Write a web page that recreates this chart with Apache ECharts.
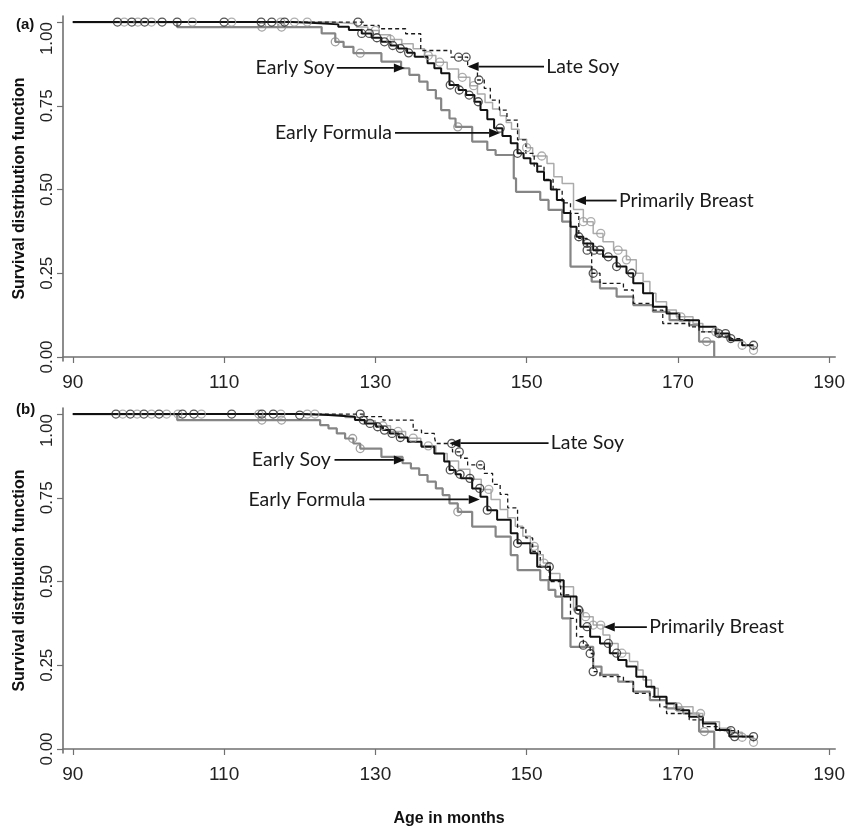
<!DOCTYPE html>
<html>
<head>
<meta charset="utf-8">
<script src="https://cdn.jsdelivr.net/npm/echarts@6/dist/echarts.min.js"></script>
<style>
html, body { margin: 0; background: #fff; }
#main { width: 848px; height: 829px; }
</style>
</head>
<body>
<div id="main"></div>
<script>
'use strict';

/* ===== data: [age in months, survival] ===== */
var xTicks = [90, 110, 130, 150, 170, 190];
var yTicks = [0, 0.25, 0.5, 0.75, 1];

// panel (a)
var esA = [[90,1],[103.8,0.985],[122.9,0.966],[124.7,0.941],[125.8,0.926],[127.1,0.907],[130.8,0.882],[133.4,0.862],[134.5,0.842],[135.8,0.822],[136.9,0.797],[138,0.772],[138.7,0.737],[139.8,0.712],[140.6,0.687],[142.8,0.643],[144.8,0.618],[145.9,0.603],[148.3,0.533],[148.6,0.493],[151.8,0.469],[152.9,0.439],[154.7,0.404],[155.8,0.27],[158.6,0.225],[159.7,0.205],[161.9,0.18],[164.1,0.155],[166.7,0.135],[168.9,0.11],[171.5,0.095],[172.8,0.046],[174.8,0]];
var efA = [[90,1],[119,0.997],[122,0.993],[125.1,0.986],[126.5,0.976],[128.2,0.966],[129.5,0.953],[130.8,0.941],[132,0.93],[133,0.921],[134.2,0.908],[135.2,0.896],[136.9,0.877],[137.8,0.862],[138.7,0.847],[139.8,0.812],[141,0.797],[142,0.782],[143.1,0.762],[143.9,0.737],[144.8,0.71],[145.7,0.683],[146.8,0.66],[147.9,0.638],[148.8,0.608],[149.6,0.593],[150.5,0.578],[151.4,0.553],[152.3,0.528],[153.2,0.5],[154,0.469],[154.9,0.43],[155.8,0.389],[156.6,0.359],[157.5,0.339],[158.8,0.319],[160.1,0.299],[161.9,0.27],[163.2,0.25],[164.1,0.22],[165.4,0.19],[166.7,0.15],[168.5,0.13],[170.2,0.11],[172.8,0.09],[175,0.07],[176.8,0.05],[178.5,0.035],[180,0.035]];
var lsA = [[90,1],[128.5,0.99],[130.5,0.98],[134,0.965],[136,0.915],[140,0.895],[142.2,0.867],[143.5,0.827],[144.4,0.802],[145.2,0.767],[146.4,0.737],[147.4,0.707],[148.8,0.648],[149.9,0.608],[151,0.57],[152.3,0.53],[153.5,0.5],[154.7,0.46],[155.8,0.429],[156.9,0.354],[158,0.319],[158.6,0.25],[159.7,0.22],[162.8,0.2],[164.1,0.16],[166.7,0.14],[168,0.1],[171.5,0.09],[172.8,0.075],[175,0.062],[177,0.055],[178.5,0.045]];
var pbA = [[90,1],[124,0.995],[127.5,0.985],[129,0.975],[130.5,0.962],[132,0.948],[133.5,0.935],[135,0.92],[136.5,0.9],[138,0.88],[139.5,0.86],[141,0.835],[142.5,0.81],[143.5,0.785],[144.5,0.76],[145.5,0.74],[146.5,0.72],[147.3,0.7],[148,0.68],[149,0.65],[150,0.625],[150.8,0.6],[152.7,0.578],[153.6,0.538],[154.7,0.518],[156.2,0.44],[157.5,0.404],[158.8,0.369],[160.1,0.344],[161.5,0.319],[163.2,0.29],[164.5,0.25],[165.4,0.225],[166.3,0.19],[167.1,0.165],[168.5,0.14],[169.8,0.12],[172,0.1],[173.3,0.075],[175.5,0.06],[177,0.05],[178.5,0.035],[180,0.02]];

var esCensA = [115, 117.6, 124.7, 128, 140.9, 173.8];
var efCensA = [95.9, 97.8, 99.5, 101.8, 103.8, 110, 114.9, 116.3, 118, 128.2, 129.2, 130.2, 131.2, 132.3, 133.3, 134.4, 139.9, 141.1, 142.4, 143.6, 146.5, 148.8, 156.9, 158, 158.9, 159.7, 160.8, 161.9, 163.9, 175.4, 176.3, 180];
var lsCensA = [127.7, 141, 142, 143.7, 158, 158.8, 177];
var pbCensA = [96.8, 98.6, 100.4, 105.8, 111, 117.5, 119.3, 121, 130, 132, 137, 138.5, 141.5, 143, 150, 152, 157.5, 158.5, 159.8, 162.1, 163.2, 170.4, 175, 178.5, 180];

// panel (b)
var esB = [[90,1],[103.8,0.982],[122.7,0.967],[123.8,0.957],[124.9,0.942],[126,0.927],[127.1,0.912],[128,0.897],[130.8,0.872],[133.6,0.853],[134.7,0.838],[135.8,0.818],[136.9,0.798],[138,0.778],[138.9,0.758],[139.8,0.733],[140.9,0.708],[142.8,0.664],[145.9,0.634],[147.9,0.579],[148.8,0.534],[151.8,0.504],[152.9,0.475],[153.8,0.455],[154.7,0.39],[155.8,0.305],[158.8,0.246],[159.9,0.221],[162.1,0.201],[164.1,0.171],[166.3,0.146],[168.5,0.121],[170.7,0.106],[172.8,0.052],[174.8,0]];
var efB = [[90,1],[120,0.997],[123.8,0.992],[127.3,0.982],[128.6,0.972],[130.1,0.962],[131,0.952],[131.9,0.942],[133.1,0.93],[134.3,0.917],[136.1,0.902],[137.8,0.882],[139.1,0.858],[139.8,0.833],[140.6,0.82],[141.3,0.808],[142.8,0.778],[143.9,0.753],[144.8,0.713],[146.1,0.684],[147.9,0.644],[148.8,0.614],[150.5,0.584],[151.4,0.544],[153.1,0.504],[154.9,0.455],[156.6,0.415],[157.1,0.365],[158.4,0.335],[159.7,0.315],[161,0.286],[162.1,0.266],[163.2,0.246],[164.5,0.216],[165.8,0.186],[166.9,0.156],[168.5,0.136],[169.8,0.116],[171.5,0.096],[173.3,0.076],[175,0.057],[176.8,0.037],[180,0.037]];
var lsB = [[90,1],[128.5,0.992],[131,0.982],[135,0.952],[136.1,0.942],[137.8,0.932],[138,0.912],[140.2,0.887],[141.3,0.868],[142.2,0.848],[144.4,0.823],[145.5,0.79],[146.5,0.76],[147.5,0.72],[148.8,0.66],[149.9,0.63],[150.8,0.59],[151.8,0.544],[153,0.5],[154.5,0.46],[155.8,0.39],[156.6,0.335],[157.5,0.31],[158.4,0.285],[158.8,0.231],[159.7,0.216],[162.8,0.201],[164.1,0.166],[166.3,0.156],[167.6,0.126],[168.5,0.106],[171.5,0.087],[173.3,0.067],[175.5,0.055],[178,0.045]];
var pbB = [[90,1],[123,0.996],[126,0.99],[128,0.98],[130,0.965],[132,0.948],[134,0.928],[136,0.905],[138,0.882],[139.5,0.86],[141,0.835],[142.5,0.805],[144,0.775],[145.3,0.745],[146.5,0.715],[147.5,0.69],[148.5,0.665],[149.5,0.635],[150.5,0.605],[151.5,0.58],[152.2,0.555],[153.1,0.524],[154.4,0.484],[156.2,0.415],[157.5,0.395],[158.8,0.37],[160.1,0.34],[161,0.315],[162.1,0.286],[163.6,0.261],[164.7,0.236],[165.4,0.206],[166.5,0.181],[167.4,0.156],[168.5,0.136],[169.8,0.126],[172,0.106],[173.3,0.081],[175.5,0.062],[177,0.05],[178.5,0.035],[180,0.02]];

var esCensB = [115, 117.6, 127, 128, 140.9, 173.5];
var efCensB = [95.7, 97.6, 99.4, 101.4, 104.5, 106, 111, 115, 116.5, 120, 128.4, 129.3, 130.3, 131.2, 132.2, 133.3, 139.9, 141.2, 142.5, 143.8, 144.8, 148.8, 153, 156.9, 158, 160.8, 161.9, 177.5, 180];
var lsCensB = [128, 140.1, 141.1, 143.9, 157.5, 158.4, 158.8, 177];
var pbCensB = [96.6, 98.5, 100.4, 102.4, 103.9, 107, 114.6, 117.5, 121, 122, 131, 133, 135, 137, 145, 151, 152.3, 156.8, 157.8, 158.8, 159.8, 162.6, 170, 173, 178.5, 180];

// arrows: text anchor, arrow tail, arrow head (data units)
var notesA = [
  { label: 'Early Soy', at: [124.6, 0.863], align: 'right', from: [124.9, 0.863], to: [133.9, 0.863] },
  { label: 'Late Soy', at: [152.6, 0.867], align: 'left', from: [152.3, 0.867], to: [142.2, 0.867] },
  { label: 'Early Formula', at: [132.2, 0.669], align: 'right', from: [132.6, 0.669], to: [146.5, 0.669] },
  { label: 'Primarily Breast', at: [162.2, 0.467], align: 'left', from: [161.9, 0.467], to: [156.4, 0.467] }
];
var notesB = [
  { label: 'Early Soy', at: [124.1, 0.863], align: 'right', from: [124.6, 0.863], to: [133.9, 0.863] },
  { label: 'Late Soy', at: [153.2, 0.913], align: 'left', from: [152.9, 0.913], to: [139.8, 0.913] },
  { label: 'Early Formula', at: [128.7, 0.745], align: 'right', from: [129.2, 0.745], to: [143.8, 0.745] },
  { label: 'Primarily Breast', at: [166.2, 0.364], align: 'left', from: [165.9, 0.364], to: [160.2, 0.364] }
];

/* ===== helpers ===== */
function survAt(curve, t) {
  var s = curve[0][1];
  for (var i = 0; i < curve.length; i++) {
    if (curve[i][0] <= t) s = curve[i][1];
  }
  return s;
}
function censPoints(curve, times) {
  return times.map(function (t) { return [t, survAt(curve, t)]; });
}

var tickFont = { fontFamily: 'Liberation Sans Narrow, Liberation Sans, Arial', fontSize: 19, color: '#222' };
var axisGray = '#707070';

function makeX(idx) {
  return {
    type: 'value', gridIndex: idx, min: 88.7, max: 190.8,
    axisLine: { lineStyle: { color: axisGray, width: 1.6 } },
    axisTick: { customValues: xTicks, length: 6, lineStyle: { color: axisGray, width: 1.2 } },
    axisLabel: Object.assign({ customValues: xTicks, margin: 12 }, tickFont),
    splitLine: { show: false },
    name: idx === 1 ? 'Age in months' : '',
    nameLocation: 'middle', nameGap: 58,
    nameTextStyle: { fontFamily: 'Liberation Sans, Arial', fontWeight: 'bold', fontSize: 16, color: '#111' }
  };
}
function makeY(idx) {
  return {
    type: 'value', gridIndex: idx, min: -0.012, max: 1.018,
    axisLine: { show: true, lineStyle: { color: axisGray, width: 1.6 } },
    axisTick: { show: true, customValues: yTicks, length: 6, lineStyle: { color: axisGray, width: 1.2 } },
    axisLabel: {
      customValues: yTicks, rotate: 90, margin: 7, alignMaxLabel: 'right',
      fontFamily: 'Liberation Sans, Arial', fontSize: 17, color: '#222',
      formatter: function (v) { return v.toFixed(2); }
    },
    splitLine: { show: false },
    name: 'Survival distribution function',
    nameLocation: 'middle', nameGap: 35, nameRotate: 90,
    nameTextStyle: { fontFamily: 'Liberation Sans, Arial', fontWeight: 'bold', fontSize: 16, color: '#111' }
  };
}

function stepLine(idx, data, color, width, dashed, z) {
  return {
    type: 'line', xAxisIndex: idx, yAxisIndex: idx, step: 'end',
    data: data, symbol: 'none', z: z,
    lineStyle: { color: color, width: width, type: dashed ? [4, 3] : 'solid' }
  };
}
function circles(idx, data, color, z) {
  return {
    type: 'scatter', xAxisIndex: idx, yAxisIndex: idx, data: data,
    symbol: 'circle', symbolSize: 8, z: z,
    itemStyle: { color: 'rgba(255,255,255,0)', borderColor: color, borderWidth: 1.3 }
  };
}

function panelSeries(idx, es, ef, ls, pb, esC, efC, lsC, pbC) {
  return [
    stepLine(idx, es, '#858585', 2.2, false, 2),
    stepLine(idx, pb, '#ababab', 1.5, false, 3),
    stepLine(idx, ls, '#1a1a1a', 1.3, true, 4),
    stepLine(idx, ef, '#111111', 2.0, false, 5),
    circles(idx, censPoints(es, esC), '#8a8a8a', 6),
    circles(idx, censPoints(pb, pbC), '#9a9a9a', 6),
    circles(idx, censPoints(ls, lsC), '#2a2a2a', 7),
    circles(idx, censPoints(ef, efC), '#2a2a2a', 7)
  ];
}

var chart = echarts.init(document.getElementById('main'));
var option = {
  animation: false,
  backgroundColor: '#fff',
  title: [
    { text: '(a)', left: 11, top: 12, textStyle: { fontFamily: 'Liberation Sans, Arial', fontWeight: 'bold', fontSize: 15, color: '#111' } },
    { text: '(b)', left: 11, top: 397, textStyle: { fontFamily: 'Liberation Sans, Arial', fontWeight: 'bold', fontSize: 15, color: '#111' } }
  ],
  grid: [
    { left: 63, top: 16, width: 777, height: 345 },
    { left: 63, top: 408, width: 777, height: 345 }
  ],
  xAxis: [makeX(0), makeX(1)],
  yAxis: [makeY(0), makeY(1)],
  series: panelSeries(0, esA, efA, lsA, pbA, esCensA, efCensA, lsCensA, pbCensA)
    .concat(panelSeries(1, esB, efB, lsB, pbB, esCensB, efCensB, lsCensB, pbCensB))
};
chart.setOption(option);

/* ===== arrows and labels ===== */
function noteGraphics(idx, notes) {
  var out = [];
  notes.forEach(function (n) {
    var p = chart.convertToPixel({ gridIndex: idx }, n.at);
    var a = chart.convertToPixel({ gridIndex: idx }, n.from);
    var b = chart.convertToPixel({ gridIndex: idx }, n.to);
    var dir = b[0] > a[0] ? 1 : -1;
    var hl = 11, hw = 4.5;
    out.push({
      type: 'text', x: p[0], y: p[1], z: 20,
      style: { text: n.label, fill: '#1a1a1a', font: '19.5px Lato, "Open Sans", sans-serif', align: n.align, verticalAlign: 'middle' }
    });
    out.push({
      type: 'line', z: 20,
      shape: { x1: a[0], y1: a[1], x2: b[0] - dir * hl, y2: b[1] },
      style: { stroke: '#111', lineWidth: 1.8 }
    });
    out.push({
      type: 'polygon', z: 20,
      shape: { points: [[b[0], b[1]], [b[0] - dir * hl, b[1] - hw], [b[0] - dir * hl, b[1] + hw]] },
      style: { fill: '#111' }
    });
  });
  return out;
}
chart.setOption({ graphic: noteGraphics(0, notesA).concat(noteGraphics(1, notesB)) });
</script>
</body>
</html>
